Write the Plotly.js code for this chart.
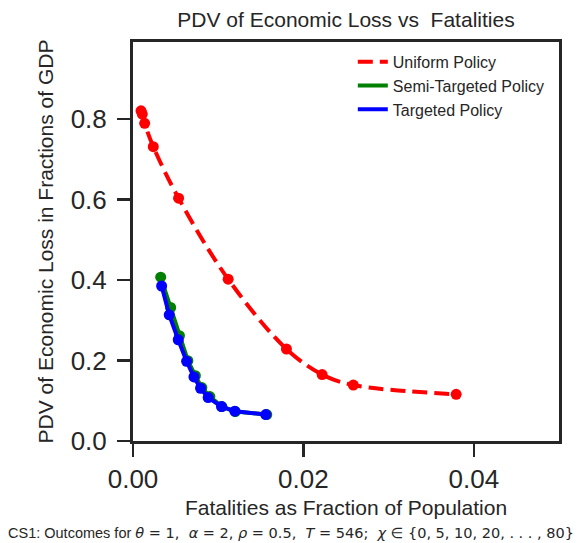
<!DOCTYPE html>
<html>
<head>
<meta charset="utf-8">
<script src="https://cdn.plot.ly/plotly-3.0.1.min.js"></script>
<style>html,body{margin:0;padding:0;background:#fff}#chart{width:582px;height:543px}</style>
</head>
<body>
<div id="chart"></div>
<script>
// Uniform policy
const uniformX = [0.00094, 0.00109, 0.00137, 0.00238, 0.00535, 0.01117, 0.01801, 0.0222, 0.02586, 0.03793];
const uniformY = [0.820, 0.812, 0.789, 0.731, 0.603, 0.402, 0.2285, 0.165, 0.139, 0.116];
// Semi-targeted policy
const semiX = [0.00325, 0.00442, 0.00545, 0.00644, 0.00732, 0.00808, 0.00902, 0.01043, 0.01201, 0.0157];
const semiY = [0.407, 0.3316, 0.2615, 0.1995, 0.1623, 0.1326, 0.1103, 0.0855, 0.0731, 0.0657];
// Targeted policy
const targX = [0.00336, 0.00425, 0.00531, 0.00629, 0.00715, 0.00793, 0.00882, 0.01039, 0.01195, 0.01558];
const targY = [0.385, 0.3135, 0.2515, 0.198, 0.159, 0.131, 0.108, 0.0855, 0.074, 0.0657];

const seriesNames = ['Uniform Policy', 'Semi-Targeted Policy', 'Targeted Policy'];
const xTicks = [0, 0.02, 0.04];
const xTickText = ['0.00', '0.02', '0.04'];
const yTicks = [0, 0.2, 0.4, 0.6, 0.8];
const yTickText = ['0.0', '0.2', '0.4', '0.6', '0.8'];

const dark = '#262626';
const FONT = 'Liberation Sans, Arial, sans-serif';
const MATH = 'DejaVu Sans';

const traces = [
  {x: uniformX, y: uniformY, name: seriesNames[0], mode: 'lines', line: {color: 'red', width: 4, dash: '15px,7px', shape: 'spline', smoothing: 1}},
  {x: uniformX, y: uniformY, mode: 'markers', showlegend: false, marker: {color: 'red', size: 11}},
  {x: semiX, y: semiY, name: seriesNames[1], mode: 'lines', line: {color: 'green', width: 4}},
  {x: semiX, y: semiY, mode: 'markers', showlegend: false, marker: {color: 'green', size: 11}},
  {x: targX, y: targY, name: seriesNames[2], mode: 'lines', line: {color: 'blue', width: 4}},
  {x: targX, y: targY, mode: 'markers', showlegend: false, marker: {color: 'blue', size: 11}}
];

function m(s) { return '<span style="font-family:' + MATH + '"><i>' + s + '</i></span>'; }
function n(s) { return '<span style="font-family:' + MATH + '">' + s + '</span>'; }

const caption = 'CS1: Outcomes for ' + m('θ') + n(' = 1,  ') + m('α') + n(' = 2, ') + m('ρ') + n(' = 0.5,  ') +
  m('T') + n(' = 546;  ') + m('χ') + n(' ∈ {0, 5, 10, 20, . . . , 80}');

const layout = {
  width: 582, height: 543,
  margin: {l: 133, r: 23, t: 42, b: 102},
  paper_bgcolor: '#fff', plot_bgcolor: '#fff',
  font: {family: FONT, color: dark},
  title: {text: 'PDV of Economic Loss vs  Fatalities', font: {size: 21, color: dark}, xref: 'paper', x: 0.5, xanchor: 'center', y: 0.964, yanchor: 'middle'},
  xaxis: {
    range: [0, 0.05], tickvals: xTicks, ticktext: xTickText,
    showgrid: false, zeroline: false, showline: true, mirror: true, linecolor: dark, linewidth: 3,
    ticks: 'outside', ticklen: 13, tickwidth: 2.5, tickcolor: dark,
    tickfont: {size: 26, color: dark},
    title: {text: 'Fatalities as Fraction of Population', font: {size: 21, color: dark}, standoff: 8}
  },
  yaxis: {
    range: [0, 0.991], tickvals: yTicks, ticktext: yTickText,
    showgrid: false, zeroline: false, showline: true, mirror: true, linecolor: dark, linewidth: 3,
    ticks: 'outside', ticklen: 13, tickwidth: 2.5, tickcolor: dark, ticklabelstandoff: 5,
    tickfont: {size: 26, color: dark},
    title: {text: 'PDV of Economic Loss in Fractions of GDP', font: {size: 21, color: dark}, standoff: 12}
  },
  legend: {x: 0.516, xanchor: 'left', y: 0.993, yanchor: 'top', bgcolor: 'rgba(255,255,255,0)', font: {size: 16, color: dark}, tracegroupgap: 0},
  showlegend: true,
  annotations: [{
    xref: 'paper', yref: 'paper', x: 0.371, y: -0.2315, xanchor: 'center', yanchor: 'middle', showarrow: false,
    text: caption,
    font: {size: 14.5, color: dark}
  }]
};

Plotly.newPlot('chart', traces, layout, {staticPlot: true, displayModeBar: false});
</script>
</body>
</html>
